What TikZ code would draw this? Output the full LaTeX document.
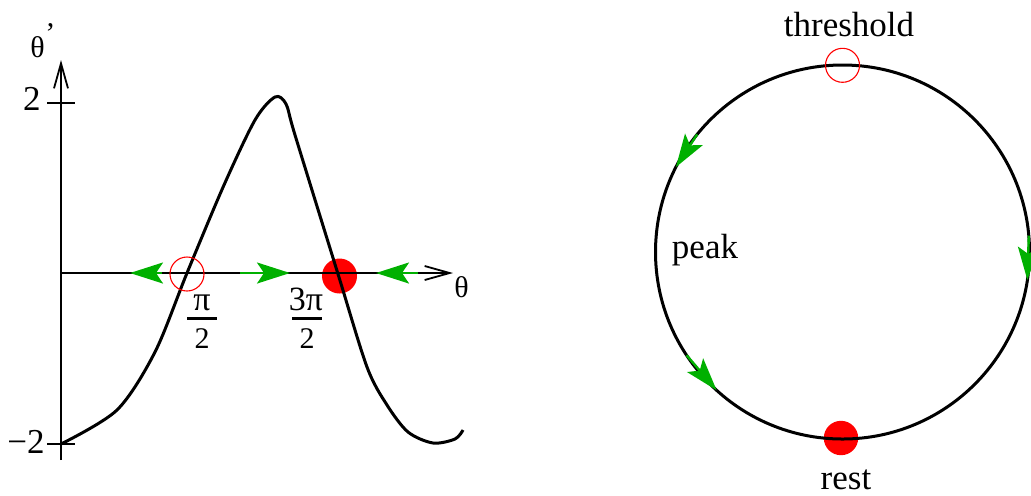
\documentclass[tikz,border=0pt]{standalone}
\usepackage{fontspec}
\setmainfont{Liberation Serif}
\usetikzlibrary{arrows.meta,calc}
\definecolor{fgreen}{RGB}{0,176,0}
\begin{document}
\begin{tikzpicture}[x=0.5pt,y=-0.5pt,
  axis/.style={line width=0.9pt,-{Straight Barb[length=12.5pt,width=7pt]}},
  tickline/.style={line width=0.8pt},
  curveline/.style={line width=1.5pt,line join=round},
  garrow/.style={draw=fgreen,line width=1.2pt,-{Stealth[length=16.5pt,width=10.5pt,inset=3.5pt,fgreen]}},
  opendot/.style={draw=red,line width=0.55pt},
  fulldot/.style={fill=red},
  lbl/.style={inner sep=0pt,font=\fontsize{17.5pt}{20pt}\selectfont},
  sml/.style={inner sep=0pt,font=\fontsize{15pt}{17pt}\selectfont},
  fracnum/.style={inner sep=0pt,font=\fontsize{17pt}{19pt}\selectfont},
  fracden/.style={inner sep=0pt,font=\fontsize{15pt}{17pt}\selectfont},
  fracbar/.style={line width=1.5pt}]
\useasboundingbox (0,0) rectangle (1031,495);

% ---------- left: phase line plot ----------
\coordinate (O) at (61,273);
\coordinate (xend) at (453,273);
\coordinate (ybot) at (61,460);
\coordinate (ytop) at (61,60);
\coordinate (t2a) at (47,103);
\coordinate (t2b) at (75,103);
\coordinate (tm2a) at (47,444);
\coordinate (tm2b) at (75,444);

\fill[fulldot] (339.5,276) circle[radius=8.75pt];

\draw[axis] (O) -- (xend);
\draw[axis] (ybot) -- (ytop);
\draw[tickline] (t2a) -- (t2b);
\draw[tickline] (tm2a) -- (tm2b);

\draw[curveline] plot[smooth,tension=0.5] coordinates {(61,444) (117,410) (155,352) (187,273) (224,185) (255,120) (275,97) (286,104) (295,135) (338,274) (367,367) (387,405) (408,432) (433,443) (455,439) (463,430)};

\coordinate (ga1) at (162,273); \coordinate (ga1t) at (130,273);
\coordinate (ga2) at (240,273); \coordinate (ga2t) at (290,273);
\coordinate (ga3) at (418,273); \coordinate (ga3t) at (376,273);
\draw[garrow] (ga1) -- (ga1t);
\draw[garrow] (ga2) -- (ga2t);
\draw[garrow] (ga3) -- (ga3t);

\draw[opendot] (187,274) circle[radius=8.5pt];

\node[lbl,anchor=base east] (l2) at (41,110) {2};
\node[lbl,anchor=base east] (lm2) at (45,453) {−2};
\node[sml,anchor=base west] (thp) at (30,57) {θ};
\node[sml,anchor=base west] (prime) at (45,43) {’};
\node[sml,anchor=base west] (thx) at (454,297) {θ};

\node[fracnum,anchor=base] (pinum) at (202,310) {π};
\coordinate (b1a) at (187,318); \coordinate (b1b) at (217,318);
\draw[fracbar] (b1a) -- (b1b);
\node[fracden,anchor=base] (piden) at (202,348) {2};

\node[fracnum,anchor=base] (tpinum) at (306,310) {3π};
\coordinate (b2a) at (292,318); \coordinate (b2b) at (322,318);
\draw[fracbar] (b2a) -- (b2b);
\node[fracden,anchor=base] (tpiden) at (307,348) {2};

% ---------- right: circle ----------
\coordinate (C) at (842.5,252);
\fill[fulldot] (841,438) circle[radius=8.6pt];
\draw[curveline] (C) circle[radius=93.5pt];

\coordinate (ca1) at ($(C)+(219:187)$); \coordinate (ca1t) at ($(C)+(207:187)$);
\coordinate (ca2) at ($(C)+(146.5:187)$); \coordinate (ca2t) at ($(C)+(132.3:187)$);
\coordinate (ca3) at ($(C)+(355:187)$); \coordinate (ca3t) at ($(C)+(8.6:187)$);
\draw[garrow] (ca1) -- (ca1t);
\draw[garrow] (ca2) -- (ca2t);
\draw[garrow] (ca3) -- (ca3t);

\draw[opendot] (842.5,65.3) circle[radius=8.5pt];

\node[lbl,anchor=base] (thr) at (849,36) {threshold};
\node[lbl,anchor=base] (rest) at (846,489) {rest};
\node[lbl,anchor=base] (peak) at (705,258) {peak};
\end{tikzpicture}
\end{document}
